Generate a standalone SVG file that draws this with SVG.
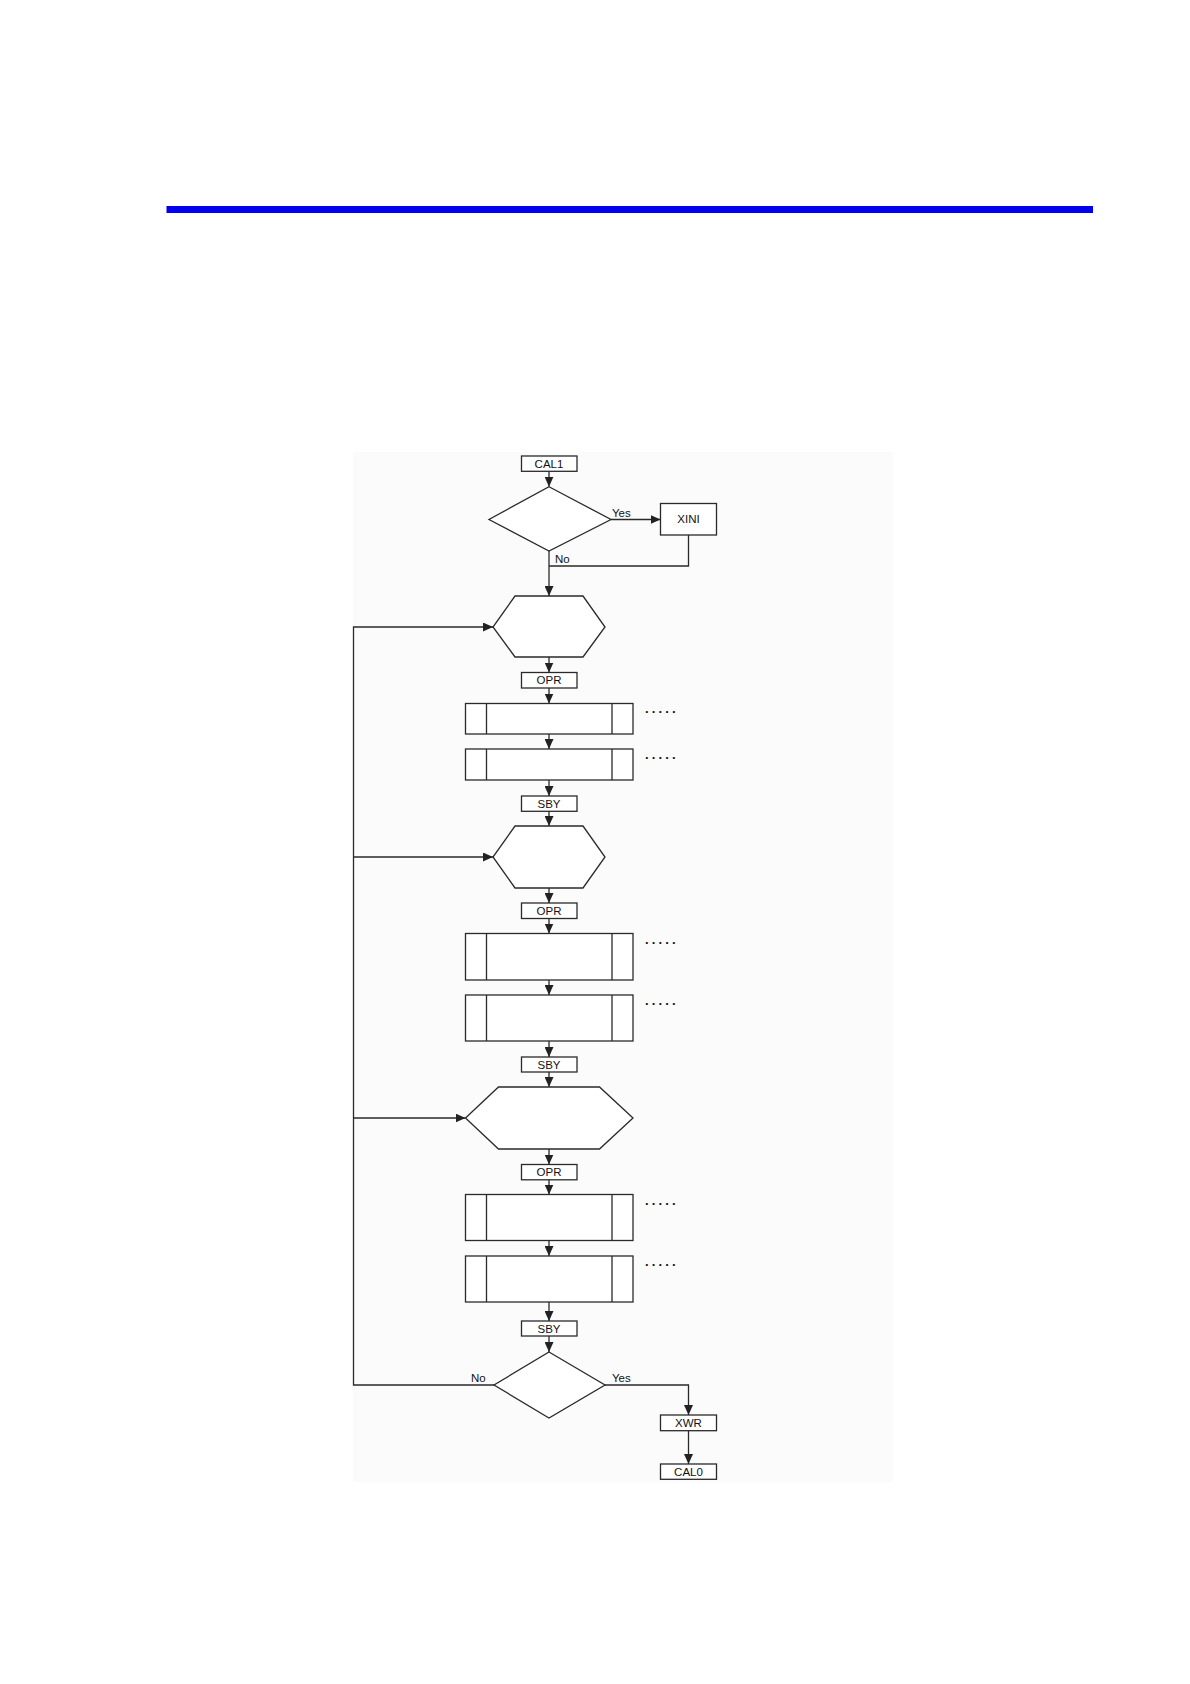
<svg xmlns="http://www.w3.org/2000/svg" width="1190" height="1684" viewBox="0 0 1190 1684">
<defs>
<marker id="arr" markerUnits="userSpaceOnUse" markerWidth="10" markerHeight="9" refX="10" refY="4.5" orient="auto">
<path d="M0,0 L10,4.5 L0,9 z" fill="#222"/>
</marker>
<style>
.s{fill:#fff;stroke:#2a2a2a;stroke-width:1.3}
.c{fill:none;stroke:#2a2a2a;stroke-width:1.3}
.t{font-family:"Liberation Sans",Arial,sans-serif;font-size:11.5px;fill:#111;text-anchor:middle}
.l{font-family:"Liberation Sans",Arial,sans-serif;font-size:11.5px;fill:#111}
.d{font-family:"Liberation Sans",Arial,sans-serif;font-size:13px;font-weight:bold;fill:#111;letter-spacing:2.4px}
</style>
</defs>
<rect width="1190" height="1684" fill="#fff"/>
<rect x="166.5" y="206" width="926.5" height="7" fill="#0000ee"/>
<rect x="353" y="452" width="540" height="1030" fill="#fbfbfb"/>

<g id="connectors">
<path class="c" d="M549,471.3 V486.7" marker-end="url(#arr)"/>
<path class="c" d="M611,519.5 H660.5" marker-end="url(#arr)"/>
<path class="c" d="M688.5,535 V566 H549"/>
<path class="c" d="M549,551 V596" marker-end="url(#arr)"/>
<path class="c" d="M549,657 V672.5" marker-end="url(#arr)"/>
<path class="c" d="M549,688 V703.5" marker-end="url(#arr)"/>
<path class="c" d="M549,734 V749" marker-end="url(#arr)"/>
<path class="c" d="M549,780 V796" marker-end="url(#arr)"/>
<path class="c" d="M549,811 V826" marker-end="url(#arr)"/>
<path class="c" d="M549,888 V903" marker-end="url(#arr)"/>
<path class="c" d="M549,918.5 V933.5" marker-end="url(#arr)"/>
<path class="c" d="M549,980 V995" marker-end="url(#arr)"/>
<path class="c" d="M549,1041 V1057" marker-end="url(#arr)"/>
<path class="c" d="M549,1072 V1087" marker-end="url(#arr)"/>
<path class="c" d="M549,1149 V1164.5" marker-end="url(#arr)"/>
<path class="c" d="M549,1180 V1194.5" marker-end="url(#arr)"/>
<path class="c" d="M549,1240.5 V1256" marker-end="url(#arr)"/>
<path class="c" d="M549,1302 V1321" marker-end="url(#arr)"/>
<path class="c" d="M549,1336 V1352" marker-end="url(#arr)"/>
<path class="c" d="M605,1385 H688.5 V1415" marker-end="url(#arr)"/>
<path class="c" d="M688.5,1431 V1464" marker-end="url(#arr)"/>
<path class="c" d="M494,1385 H353.5 V627 H493" marker-end="url(#arr)"/>
<path class="c" d="M353.5,857 H493" marker-end="url(#arr)"/>
<path class="c" d="M353.5,1118 H465.5" marker-end="url(#arr)"/>
<text class="l" x="612" y="517">Yes</text>
<text class="l" x="555" y="563">No</text>
<text class="l" x="471" y="1382">No</text>
<text class="l" x="612" y="1382">Yes</text>
</g>

<g id="cal1"><rect class="s" x="521.5" y="456" width="55.5" height="15.3"/><text class="t" x="549" y="467.8">CAL1</text></g>
<g id="decision1"><polygon class="s" points="549,486.7 611,519.5 549,551 489,519.5"/></g>
<g id="xini"><rect class="s" x="660.5" y="503.5" width="56" height="31.5"/><text class="t" x="688.5" y="523.3">XINI</text></g>

<g id="hex1"><polygon class="s" points="515,596 583,596 605,627 583,657 515,657 493,627"/></g>
<g id="opr1"><rect class="s" x="521.5" y="672.5" width="55.5" height="15.5"/><text class="t" x="549" y="684.3">OPR</text></g>
<g id="proc1"><rect class="s" x="465.5" y="703.5" width="167.5" height="30.5"/><path class="c" d="M486.5,703.5 V734 M612,703.5 V734"/><text class="d" x="645" y="716">·····</text></g>
<g id="proc2"><rect class="s" x="465.5" y="749" width="167.5" height="31"/><path class="c" d="M486.5,749 V780 M612,749 V780"/><text class="d" x="645" y="761.5">·····</text></g>
<g id="sby1"><rect class="s" x="521.5" y="796" width="55.5" height="15.3"/><text class="t" x="549" y="807.8">SBY</text></g>

<g id="hex2"><polygon class="s" points="515,826 583,826 605,857 583,888 515,888 493,857"/></g>
<g id="opr2"><rect class="s" x="521.5" y="903" width="55.5" height="15.5"/><text class="t" x="549" y="914.8">OPR</text></g>
<g id="proc3"><rect class="s" x="465.5" y="933.5" width="167.5" height="46.5"/><path class="c" d="M486.5,933.5 V980 M612,933.5 V980"/><text class="d" x="645" y="946.5">·····</text></g>
<g id="proc4"><rect class="s" x="465.5" y="995" width="167.5" height="46"/><path class="c" d="M486.5,995 V1041 M612,995 V1041"/><text class="d" x="645" y="1008">·····</text></g>
<g id="sby2"><rect class="s" x="521.5" y="1057" width="55.5" height="15"/><text class="t" x="549" y="1068.8">SBY</text></g>

<g id="hex3"><polygon class="s" points="498.5,1087 599.5,1087 633,1118 599.5,1149 498.5,1149 465.5,1118"/></g>
<g id="opr3"><rect class="s" x="521.5" y="1164.5" width="55.5" height="15.3"/><text class="t" x="549" y="1176.3">OPR</text></g>
<g id="proc5"><rect class="s" x="465.5" y="1194.5" width="167.5" height="46"/><path class="c" d="M486.5,1194.5 V1240.5 M612,1194.5 V1240.5"/><text class="d" x="645" y="1207.5">·····</text></g>
<g id="proc6"><rect class="s" x="465.5" y="1256" width="167.5" height="46"/><path class="c" d="M486.5,1256 V1302 M612,1256 V1302"/><text class="d" x="645" y="1269">·····</text></g>
<g id="sby3"><rect class="s" x="521.5" y="1321" width="55.5" height="15"/><text class="t" x="549" y="1332.8">SBY</text></g>

<g id="decision2"><polygon class="s" points="549,1352 605,1385 549,1418 494,1385"/></g>
<g id="xwr"><rect class="s" x="660.5" y="1415" width="56" height="15.7"/><text class="t" x="688.5" y="1427">XWR</text></g>
<g id="cal0"><rect class="s" x="660.5" y="1464" width="56" height="15.3"/><text class="t" x="688.5" y="1475.8">CAL0</text></g>
</svg>
